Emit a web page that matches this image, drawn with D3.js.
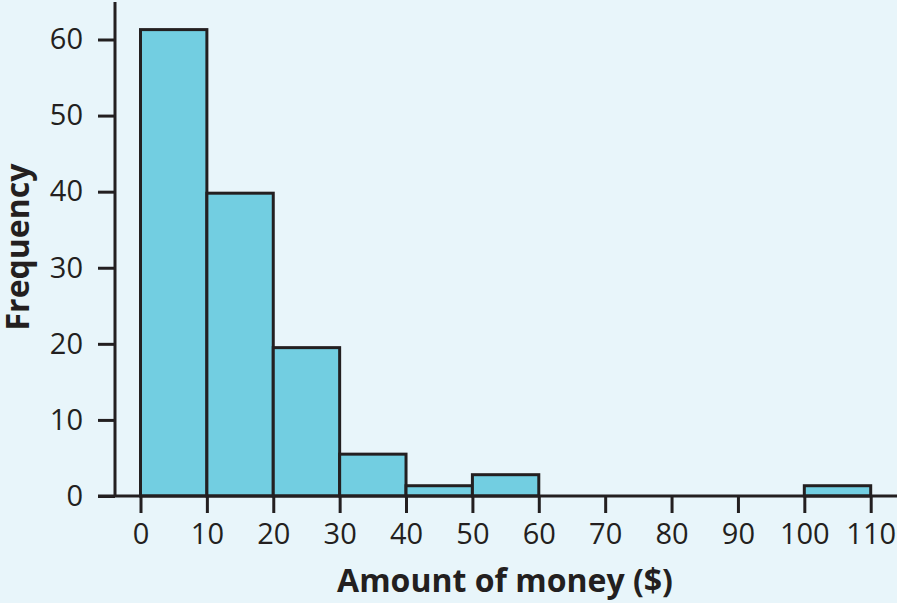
<!DOCTYPE html>
<html>
<head>
<meta charset="utf-8">
<script src="https://cdn.jsdelivr.net/npm/d3@7"></script>
<style>
  html, body { margin: 0; padding: 0; background: #e8f5fa; }
  svg { display: block; }
  text { font-family: "Open Sans", "Noto Sans", sans-serif; fill: #231f20; }
</style>
</head>
<body>
<div id="chart"></div>
<script>
// histogram bins (lower edge, $) and their frequencies
var binStarts = [0, 10, 20, 30, 40, 50, 60, 70, 80, 90, 100];
var binWidth = 10;
var frequencies = [61.3, 39.8, 19.5, 5.5, 1.35, 2.8, 0, 0, 0, 0, 1.35];
var xTicks = [0, 10, 20, 30, 40, 50, 60, 70, 80, 90, 100, 110];
var yTicks = [0, 10, 20, 30, 40, 50, 60];

function init() {
    var w = 897, h = 603;
    var ink = "#231f20";

    var svg = d3.select("#chart").append("svg")
                .attr("width", w)
                .attr("height", h);

    svg.append("rect")
        .attr("width", w).attr("height", h)
        .attr("fill", "#e8f5fa");

    var x = d3.scaleLinear().domain([0, 110]).range([140.5, 870.7]);
    var y = d3.scaleLinear().domain([0, 60]).range([496, 39.5]);

    // bars
    svg.selectAll("rect.bar")
        .data(binStarts.filter(function(d, i) { return frequencies[i] > 0; }))
        .enter()
        .append("rect")
        .attr("class", "bar")
        .attr("x", function(d) { return x(d); })
        .attr("width", function(d) { return x(d + binWidth) - x(d); })
        .attr("y", function(d) { return y(frequencies[binStarts.indexOf(d)]); })
        .attr("height", function(d) { return y(0) - y(frequencies[binStarts.indexOf(d)]); })
        .attr("fill", "#72cee1")
        .attr("stroke", ink)
        .attr("stroke-width", 3);

    // x axis
    var xAxis = svg.append("g")
        .attr("transform", "translate(0," + y(0) + ")")
        .call(d3.axisBottom(x).tickValues(xTicks).tickSize(17).tickPadding(10));
    xAxis.select(".domain").remove();
    xAxis.selectAll(".tick line").attr("stroke", ink).attr("stroke-width", 3);
    xAxis.selectAll(".tick text")
        .attr("font-size", 29)
        .attr("font-family", "Open Sans")
        .attr("fill", ink);

    // y axis
    var yAxis = svg.append("g")
        .attr("transform", "translate(115,0)")
        .call(d3.axisLeft(y).tickValues(yTicks).tickSize(17).tickPadding(15));
    yAxis.select(".domain").remove();
    yAxis.selectAll(".tick line").attr("stroke", ink).attr("stroke-width", 3);
    yAxis.selectAll(".tick text")
        .attr("font-size", 29)
        .attr("font-family", "Open Sans")
        .attr("fill", ink);

    // axis lines
    svg.append("line")
        .attr("x1", 98).attr("x2", w)
        .attr("y1", y(0)).attr("y2", y(0))
        .attr("stroke", ink).attr("stroke-width", 3);
    svg.append("line")
        .attr("x1", 115).attr("x2", 115)
        .attr("y1", 2).attr("y2", y(0))
        .attr("stroke", ink).attr("stroke-width", 3);

    // axis titles
    svg.append("text")
        .attr("x", 505).attr("y", 592)
        .attr("text-anchor", "middle")
        .attr("font-size", 32)
        .attr("font-weight", "bold")
        .text("Amount of money ($)");

    svg.append("text")
        .attr("transform", "translate(29,247) rotate(-90)")
        .attr("text-anchor", "middle")
        .attr("font-size", 32)
        .attr("font-weight", "bold")
        .text("Frequency");
}

window.onload = init;
</script>
</body>
</html>
